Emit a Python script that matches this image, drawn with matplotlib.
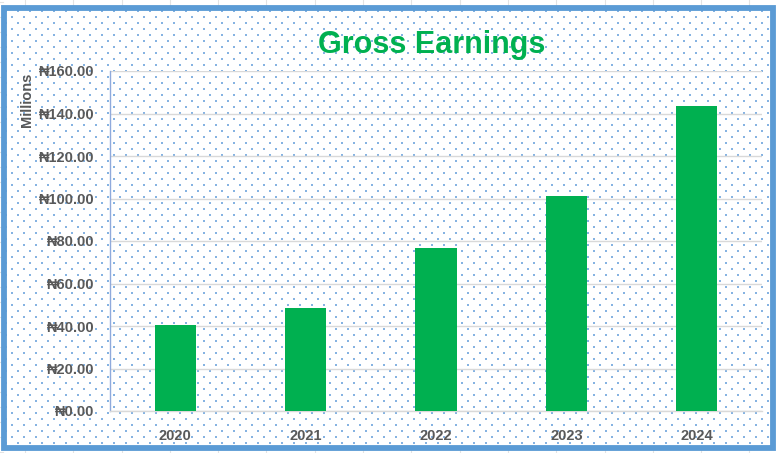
import matplotlib
matplotlib.use("Agg")
import matplotlib.pyplot as plt
from matplotlib.patches import Rectangle
import numpy as np

years = ["2020", "2021", "2022", "2023", "2024"]
earnings = [40.5, 48.5, 76.5, 101.0, 143.5]   # millions of naira
yticks = [0, 20, 40, 60, 80, 100, 120, 140, 160]
title = "Gross Earnings"
ylabel = "Millions"

GREEN = "#00B050"
GREY_TXT = "#595959"
FONT = ["Liberation Sans", "DejaVu Sans"]

W, H = 778, 453
fig = plt.figure(figsize=(W / 100, H / 100), dpi=100)

# background layer in pixel coordinates
bg = fig.add_axes([0, 0, 1, 1], zorder=0)
bg.set_xlim(0, W)
bg.set_ylim(H, 0)
bg.axis("off")
# faint spreadsheet cell lines outside the chart
for x in np.arange(25, W, 48.3):
    bg.plot([x, x], [0, H], color="#E3E3E3", lw=0.8, zorder=1)
for y in np.arange(2, H, 15):
    bg.plot([0, 3], [y, y], color="#E3E3E3", lw=0.8, zorder=1)
bg.add_patch(Rectangle((4.5, 7.5), 768.5, 440, facecolor="white",
                       edgecolor="none", zorder=2))
# dotted pattern fill
xs, ys = [], []
for i, y in enumerate(np.arange(11, 446, 6)):
    start = 6 if i % 2 == 0 else 12
    for x in np.arange(start, 771, 12):
        xs.append(x)
        ys.append(y)
bg.scatter(xs, ys, s=2.0, marker="s", color="#86B3E2", linewidths=0,
           zorder=3, antialiased=False)
bg.add_patch(Rectangle((4.5, 7.5), 768.5, 440, facecolor="none",
                       edgecolor="#5B9BD5", lw=4.2, zorder=4))

# main chart
ax = fig.add_axes([110 / W, 1 - 411 / H, (762 - 110) / W, (411 - 71) / H], zorder=1)
ax.set_facecolor("none")
xpos = np.arange(len(years))
ax.bar(xpos, earnings, width=0.315, color=GREEN, zorder=3)
ax.set_xlim(-0.5, len(years) - 0.5)
ax.set_ylim(0, 160)
ax.set_yticks(yticks)
ax.set_yticklabels([f"\u20a6{v:.2f}" for v in yticks])
ax.set_xticks(xpos)
ax.set_xticklabels(years)
ax.yaxis.grid(True, color="#D9D9D9", lw=1.0, zorder=1)
ax.set_axisbelow(True)
for s in ["top", "right"]:
    ax.spines[s].set_visible(False)
ax.spines["left"].set_color("#8FAADC")
ax.spines["left"].set_linewidth(1.0)
ax.spines["bottom"].set_color("#D9D9D9")
ax.spines["bottom"].set_linewidth(1.0)
ax.tick_params(axis="both", length=0)
ax.tick_params(axis="y", pad=11)
ax.tick_params(axis="x", pad=13)
for lab in ax.get_yticklabels() + ax.get_xticklabels():
    lab.set_fontfamily(FONT)
    lab.set_fontweight("bold")
    lab.set_fontsize(10.5)
    lab.set_color(GREY_TXT)

fig.text(27 / W, 1 - 100 / H, ylabel, rotation=90, ha="center", va="center",
         family=FONT, fontweight="bold", fontsize=10.5, color=GREY_TXT)
fig.text(432 / W, 1 - 52.5 / H, title, ha="center", va="baseline",
         family=["Liberation Sans", "DejaVu Sans"], fontweight="bold",
         fontsize=22, color=GREEN)

fig.savefig("out.png", dpi=100)
